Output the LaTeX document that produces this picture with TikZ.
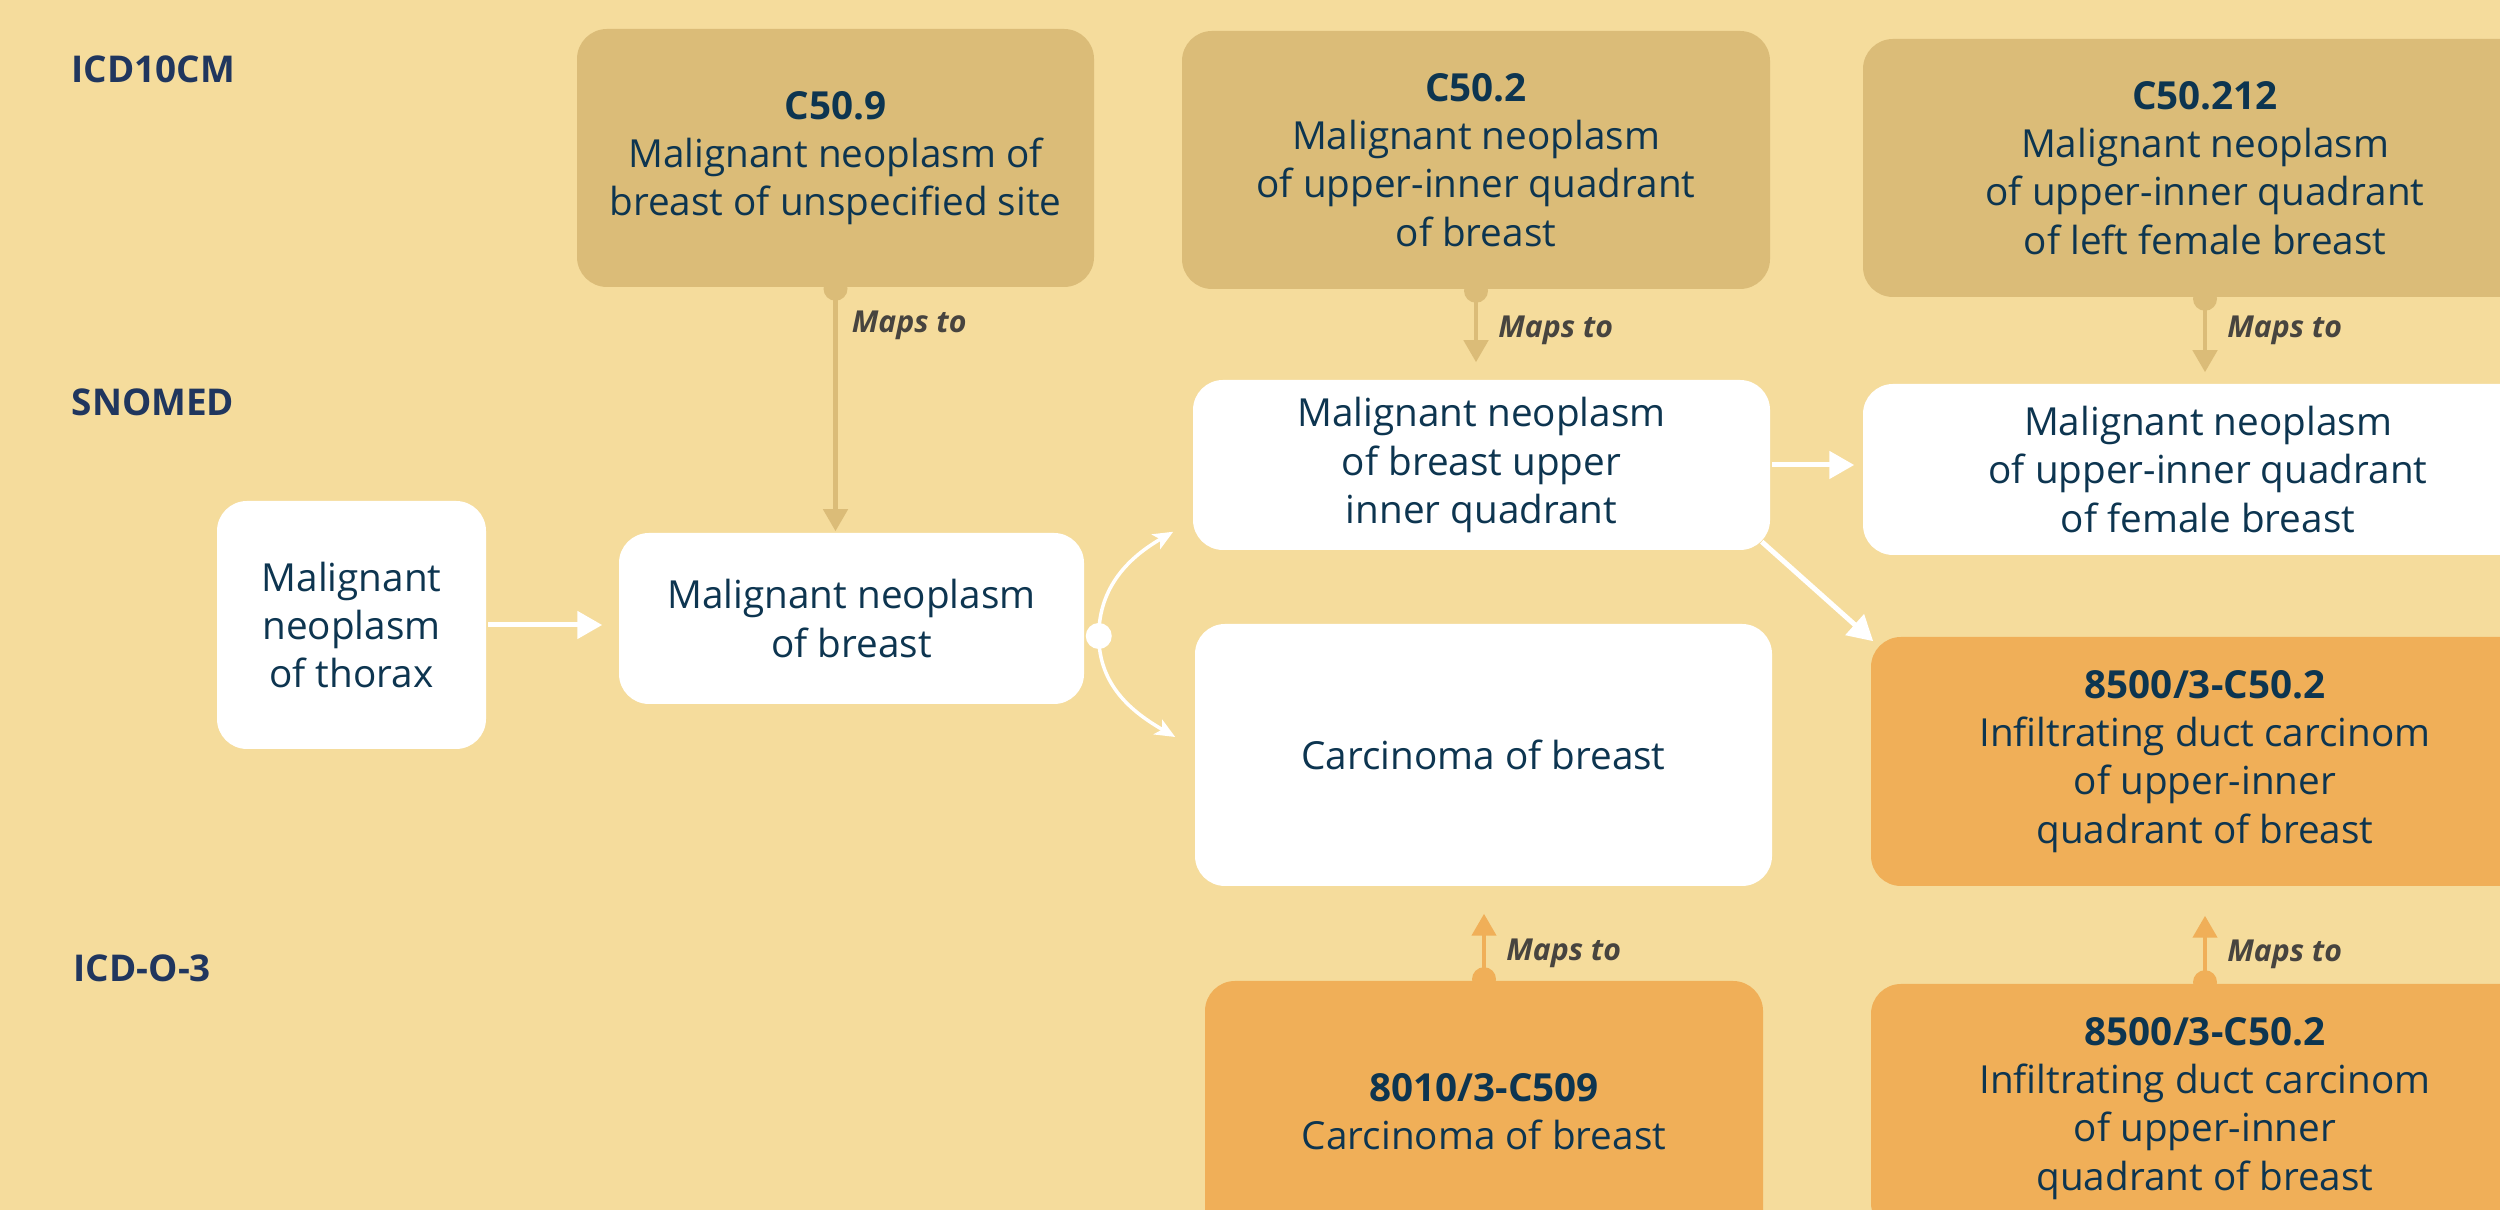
\documentclass[tikz,border=0pt]{standalone}
\usepackage{fontspec}
\setmainfont{Open Sans}
\usetikzlibrary{%
  arrows.meta,% wg. Triangle, Stealth
  positioning,%
  calc%
}
\definecolor{bgcol}{HTML}{F5DC9C}
\definecolor{tancol}{HTML}{DBBC78}
\definecolor{orangecol}{HTML}{F0AF58}
\definecolor{txtcol}{HTML}{0D3550}
\definecolor{labcol}{HTML}{20365E}
\definecolor{mapcol}{HTML}{47443F}

\begin{document}
\begin{tikzpicture}[
  font=\fontsize{11}{13.7}\selectfont,
  >={Triangle[length=0.22cm,width=0.24cm]},
  line width=1pt,
  box/.style={rectangle,rounded corners=0.3cm,align=center,text=txtcol,inner sep=0pt},
  icdbox/.style={box,fill=tancol},
  snobox/.style={box,fill=white},
  icdobox/.style={box,fill=orangecol},
  rowlab/.style={anchor=west,inner sep=0pt,text=labcol,font=\fontsize{10.5}{12}\selectfont\bfseries},
  mapsto/.style={anchor=west,inner sep=0pt,xshift=0.2cm,text=mapcol,font=\fontsize{8.6}{10}\selectfont\bfseries\itshape},
  maparrow/.style={draw=#1,line width=0.045cm,->},
  isarrow/.style={draw=white,line width=0.05cm,-{Triangle[length=0.25cm,width=0.27cm]}},
  curvearrow/.style={draw=white,line width=0.035cm,-{Stealth[length=0.2cm,width=0.17cm,inset=0.05cm]}},
]

\useasboundingbox (0,0) rectangle (25,12.1);
\fill[bgcol] (0,0) rectangle (25,12.1);

% row labels
\node[rowlab] (lab1) at (0.70,11.41) {ICD10CM};
\node[rowlab] (lab2) at (0.70,8.08) {SNOMED};
\node[rowlab] (lab3) at (0.72,2.42) {ICD-O-3};

% ICD10CM
\node[icdbox,minimum width=5.17cm,minimum height=2.58cm] (c509) at (8.355,10.52)
  {\textbf{C50.9}\\Malignant neoplasm of\\breast of unspecified site};
\node[icdbox,minimum width=5.88cm,minimum height=2.58cm] (c502) at (14.76,10.50)
  {\textbf{C50.2}\\Malignant neoplasm\\of upper-inner quadrant\\of breast};
\node[icdbox,minimum width=6.84cm,minimum height=2.58cm] (c50212) at (22.05,10.42)
  {\textbf{C50.212}\\Malignant neoplasm\\of upper-inner quadrant\\of left female breast};

% SNOMED
\node[snobox,minimum width=2.69cm,minimum height=2.48cm] (thorax) at (3.515,5.85)
  {Malignant\\neoplasm\\of thorax};
\node[snobox,minimum width=4.65cm,minimum height=1.71cm] (breast) at (8.515,5.915)
  {Malignant neoplasm\\of breast};
\node[snobox,minimum width=5.77cm,minimum height=1.70cm] (uiq) at (14.815,7.45)
  {Malignant neoplasm\\of breast upper\\inner quadrant};
\node[snobox,minimum width=6.90cm,minimum height=1.71cm] (female) at (22.08,7.405)
  {Malignant neoplasm\\of upper-inner quadrant\\of female breast};
\node[snobox,minimum width=5.77cm,minimum height=2.62cm] (carc) at (14.835,4.55)
  {Carcinoma of breast};
\node[icdobox,minimum width=6.68cm,minimum height=2.49cm] (idct) at (22.05,4.485)
  {\textbf{8500/3-C50.2}\\Infiltrating duct carcinom\\of upper-inner\\quadrant of breast};

% ICD-O-3
\node[icdobox,minimum width=5.58cm,minimum height=2.62cm] (c8010) at (14.84,0.98)
  {\textbf{8010/3-C509}\\Carcinoma of breast};
\node[icdobox,minimum width=6.68cm,minimum height=2.49cm] (idcb) at (22.05,1.015)
  {\textbf{8500/3-C50.2}\\Infiltrating duct carcinom\\of upper-inner\\quadrant of breast};

% maps to
\fill[tancol] (c509.south) circle (0.12);
\draw[maparrow=tancol] (c509.south) -- node[mapsto,pos=0.15,xshift=-0.06cm] (m1) {Maps to} (c509.south |- breast.north);
\fill[tancol] (c502.south) circle (0.12);
\draw[maparrow=tancol,shorten >=0.16cm] (c502.south) -- node[mapsto,pos=0.45] (m2) {Maps to} (c502.south |- uiq.north);
\fill[tancol] (c50212.south) circle (0.12);
\draw[maparrow=tancol,shorten >=0.1cm] (c50212.south) -- node[mapsto,pos=0.38] (m3) {Maps to} (c50212.south |- female.north);
\fill[orangecol] (c8010.north) circle (0.12);
\draw[maparrow=orangecol,shorten >=0.26cm] (c8010.north) -- node[mapsto,pos=0.28] (m4) {Maps to} (c8010.north |- carc.south);
\fill[orangecol] (idcb.north) circle (0.12);
\draw[maparrow=orangecol,shorten >=0.28cm] (idcb.north) -- node[mapsto,pos=0.3] (m5) {Maps to} (idcb.north |- idct.south);

% is-a
\draw[isarrow,shorten >=0.15cm] (thorax.east) -- (thorax.east -| breast.west);
\draw[isarrow,shorten >=0.07cm] (uiq.east) -- (uiq.east -| female.west);
\draw[isarrow] ($(uiq.south east)+(-0.1,0.1)$) -- ($(idct.north west)+(0.04,-0.06)$);
\coordinate (split) at ($(breast.east)+(0.13,-0.175)$);
\fill[white] (split) circle (0.13);
\draw[curvearrow] (split) to[out=90,in=210] ($(uiq.south west)+(-0.18,0.2)$);
\draw[curvearrow] (split) to[out=-90,in=150] ($(carc.west)+(-0.18,0.18)$);

\end{tikzpicture}
\end{document}
